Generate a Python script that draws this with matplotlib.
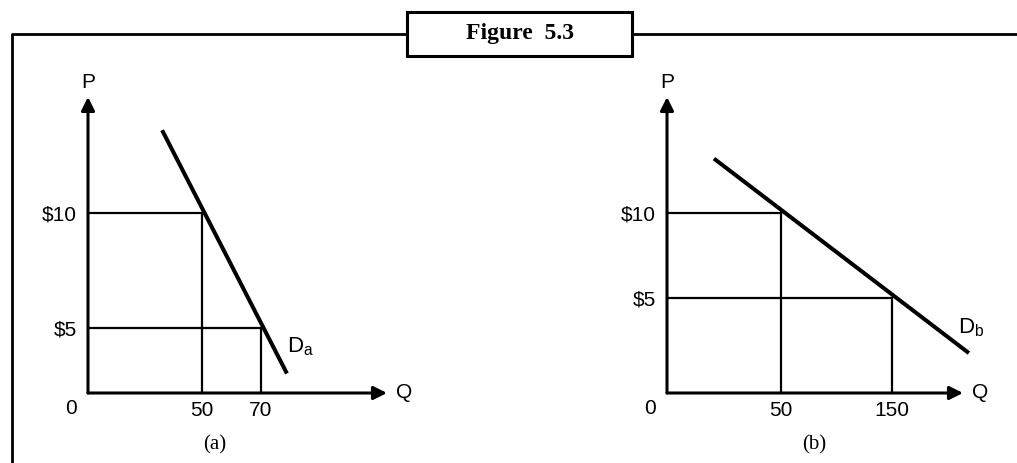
import numpy as np
import matplotlib
matplotlib.use('Agg')
import matplotlib.pyplot as plt
from matplotlib.patches import Rectangle

plt.rcParams['font.family'] = 'Liberation Sans'
plt.rcParams['mathtext.fontset'] = 'custom'
plt.rcParams['mathtext.rm'] = 'Liberation Sans'
plt.rcParams['mathtext.it'] = 'Liberation Sans'

# --- data ---
title = 'Figure  5.3'
prices = [10, 5]
price_labels = ['\\$10', '\\$5']

qty_a = [50, 70]
qty_a_labels = ['50', '70']
demand_a_q = [32.5, 78.8]
demand_a_p = [13.6, 1.5]

qty_b = [50, 150]
qty_b_labels = ['50', '150']
demand_b_q = [20.6, 219.4]
demand_b_p = [13.2, 2.1]

# schematic (non-linear) spacing of the hand-drawn axes: value knots -> pixel offset
scale_a_x = ([0, 50, 70, 200], [0, 114, 173, 556])
scale_a_y = ([0, 5, 10, 30], [0, 65, 180, 640])
scale_b_x = ([0, 50, 150, 400], [0, 114, 225, 502])
scale_b_y = ([0, 5, 10, 30], [0, 95, 180, 520])

W, H = 1017, 463
fig = plt.figure(figsize=(W / 100, H / 100), dpi=100)

# frame around the figure
frame = fig.add_axes([0, 0, 1, 1])
frame.set_xlim(0, W)
frame.set_ylim(H, 0)
frame.axis('off')
frame.plot([12, 12, 407], [H, 34, 34], color='black', lw=2, solid_capstyle='butt')
frame.plot([632, W], [34, 34], color='black', lw=2, solid_capstyle='butt')
frame.add_patch(Rectangle((407, 12), 225, 44, fill=False, edgecolor='black', lw=2.2))
frame.text(520, 33, title, family='Liberation Serif', fontweight='bold',
           fontsize=17, ha='center', va='center')


def piecewise(knots):
    vals, pos = knots
    return (lambda v: np.interp(v, vals, pos), lambda p: np.interp(p, pos, vals))


def panel(origin_x, width, sx, sy, qty, qty_labels, dq, dp, dlabel, doff, caption_x, caption):
    left = origin_x / W
    bottom = (H - 393) / H
    ax = fig.add_axes([left, bottom, width / W, 296 / H])
    fx = piecewise(sx)
    fy = piecewise(sy)
    ax.set_xscale('function', functions=fx)
    ax.set_yscale('function', functions=fy)
    ax.set_xlim(0, fx[1](width))
    ax.set_ylim(0, fy[1](296))
    for s in ax.spines.values():
        s.set_visible(False)
    ax.patch.set_alpha(0)

    # axes with arrow heads
    arrow = dict(arrowstyle='-|>', color='black', lw=2.2, mutation_scale=20,
                 shrinkA=0, shrinkB=0)
    ax.annotate('', xy=(1, 0), xytext=(0, 0), xycoords='axes fraction', arrowprops=arrow)
    ax.annotate('', xy=(0, 1), xytext=(0, 0), xycoords='axes fraction', arrowprops=arrow)

    # guide lines from the axes to the demand curve
    for q, p in zip(qty, prices):
        ax.plot([0, q], [p, p], color='black', lw=1.6, clip_on=False)
        ax.plot([q, q], [0, p], color='black', lw=1.6, clip_on=False)

    ax.plot(dq, dp, color='black', lw=2.9, clip_on=False, solid_capstyle='butt')

    ax.set_xticks(qty, qty_labels)
    ax.set_yticks(prices, price_labels)
    ax.minorticks_off()
    ax.tick_params(axis='x', length=0, pad=5.5, labelsize=15)
    ax.tick_params(axis='y', length=0, pad=8, labelsize=15)

    ax.annotate('0', xy=(0, 0), xytext=(-17, -15), textcoords='offset pixels',
                ha='center', va='center', fontsize=15)
    ax.annotate('P', xy=(0, 1), xycoords='axes fraction', xytext=(0, 14),
                textcoords='offset pixels', ha='center', va='center', fontsize=15)
    ax.annotate('Q', xy=(1, 0), xycoords='axes fraction', xytext=(17, 0),
                textcoords='offset pixels', ha='center', va='center', fontsize=15)
    ax.annotate(dlabel, xy=(dq[1], dp[1]), xytext=doff, textcoords='offset pixels',
                ha='left', va='baseline', fontsize=16, annotation_clip=False)

    fig.text(caption_x / W, 1 - 445 / H, caption, family='Liberation Serif',
             fontsize=15, ha='center', va='center')
    return ax


panel(88, 299, scale_a_x, scale_a_y, qty_a, qty_a_labels, demand_a_q, demand_a_p,
      r'D$_{a}$', (0, 21), 215, '(a)')
panel(667, 296, scale_b_x, scale_b_y, qty_b, qty_b_labels, demand_b_q, demand_b_p,
      r'D$_{b}$', (-11, 20), 814, '(b)')

fig.savefig('out.png', dpi=100)
